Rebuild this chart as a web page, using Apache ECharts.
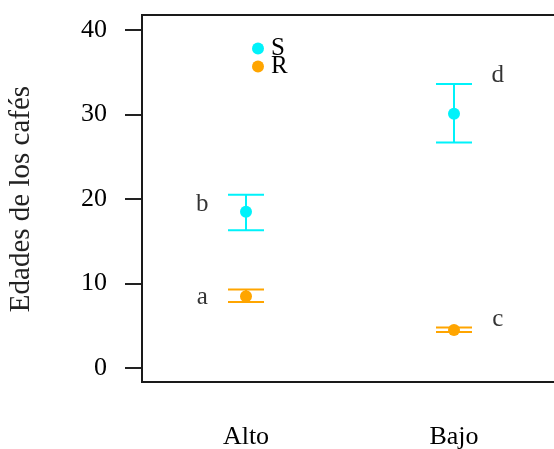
<!DOCTYPE html>
<html>
<head>
<meta charset="utf-8">
<script src="https://cdn.jsdelivr.net/npm/echarts@6/dist/echarts.min.js"></script>
<style>
  html, body { margin: 0; padding: 0; background: #fff; }
  #chart { width: 554px; height: 449px; }
</style>
</head>
<body>
<div id="chart"></div>
<script>
// grupos en el eje x
const categories = ['Alto', 'Bajo']
const xPos = [1, 2]

// serie S (cian): media y extremos de la barra de error
const sMean = [18.5, 30.1]
const sLow = [16.3, 26.7]
const sHigh = [20.5, 33.6]

// serie R (naranja)
const rMean = [8.5, 4.5]
const rLow = [7.8, 4.25]
const rHigh = [9.3, 4.8]

// letras de significancia
const letters = ['b', 'a', 'd', 'c']
const letterX = [0.79, 0.79, 2.21, 2.21]
const letterY = [19.4, 8.3, 34.6, 5.8]

const yTicks = [0, 10, 20, 30, 40]

const serif = '"Liberation Serif", "DejaVu Serif", serif'
const CYAN = '#00f2fa'
const ORANGE = '#ffa500'
const INK = '#000'

const chart = echarts.init(document.getElementById('chart'))

const errorBar = (color) => (params, api) => {
  const x = api.value(0)
  const lo = api.coord([x, api.value(1)])
  const hi = api.coord([x, api.value(2)])
  const half = 18
  const style = { stroke: color, lineWidth: 2 }
  return {
    type: 'group',
    children: [
      { type: 'line', shape: { x1: lo[0], y1: lo[1], x2: hi[0], y2: hi[1] }, style },
      { type: 'line', shape: { x1: lo[0] - half, y1: lo[1], x2: lo[0] + half, y2: lo[1] }, style },
      { type: 'line', shape: { x1: hi[0] - half, y1: hi[1], x2: hi[0] + half, y2: hi[1] }, style }
    ]
  }
}

const option = {
  animation: false,
  backgroundColor: '#fff',
  grid: { left: 142, top: 30, width: 416, bottom: 81, containLabel: false, outerBoundsMode: 'none' },
  xAxis: {
    type: 'value',
    min: 0.5,
    max: 2.5,
    interval: 0.5,
    axisLine: { show: false },
    axisTick: { show: false },
    splitLine: { show: false },
    axisLabel: {
      margin: 56,
      fontFamily: serif,
      fontSize: 26,
      color: INK,
      formatter: (v) => {
        const i = xPos.indexOf(v)
        return i >= 0 ? categories[i] : ''
      }
    }
  },
  yAxis: {
    type: 'value',
    min: yTicks[0],
    max: yTicks[yTicks.length - 1],
    interval: 10,
    name: 'Edades de los cafés',
    nameLocation: 'middle',
    nameRotate: 90,
    nameGap: 106,
    nameTextStyle: { fontFamily: serif, fontSize: 29, color: '#222' },
    axisLine: { show: false },
    axisTick: { show: true, inside: false, length: 17, lineStyle: { color: '#222', width: 2 } },
    splitLine: { show: false },
    axisLabel: { margin: 35, fontFamily: serif, fontSize: 26, color: INK }
  },
  legend: {
    data: ['S', 'R'],
    orient: 'vertical',
    left: 252,
    top: 36,
    padding: 0,
    itemGap: -7,
    itemWidth: 12,
    itemHeight: 12,
    icon: 'circle',
    textStyle: { fontFamily: serif, fontSize: 25, color: INK, padding: [0, 0, 0, 2] }
  },
  graphic: [{
    type: 'rect',
    shape: { x: 142, y: 15, width: 430, height: 367 },
    style: { fill: 'none', stroke: '#1a1a1a', lineWidth: 2 },
    z: 100
  }],
  series: [
    {
      name: 'S-err',
      type: 'custom',
      renderItem: errorBar(CYAN),
      data: xPos.map((x, i) => [x, sLow[i], sHigh[i]]),
      z: 2
    },
    {
      name: 'R-err',
      type: 'custom',
      renderItem: errorBar(ORANGE),
      data: xPos.map((x, i) => [x, rLow[i], rHigh[i]]),
      z: 2
    },
    {
      name: 'S',
      type: 'scatter',
      symbol: 'circle',
      symbolSize: 12,
      itemStyle: { color: CYAN, opacity: 1 },
      data: xPos.map((x, i) => [x, sMean[i]]),
      z: 3
    },
    {
      name: 'R',
      type: 'scatter',
      symbol: 'circle',
      symbolSize: 12,
      itemStyle: { color: ORANGE, opacity: 1 },
      data: xPos.map((x, i) => [x, rMean[i]]),
      z: 3
    },
    {
      name: 'letras',
      type: 'scatter',
      symbolSize: 0,
      silent: true,
      data: letters.map((l, i) => ({ value: [letterX[i], letterY[i]], name: l })),
      label: {
        show: true,
        position: 'inside',
        formatter: (p) => p.name,
        fontFamily: serif,
        fontSize: 25,
        color: INK
      }
    }
  ]
}

chart.setOption(option)
window.addEventListener('resize', () => chart.resize())
</script>
</body>
</html>
